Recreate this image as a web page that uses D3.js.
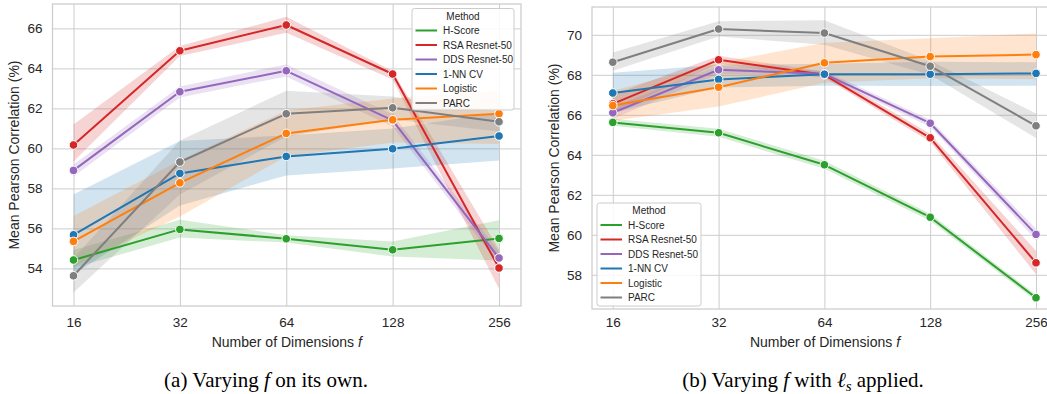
<!DOCTYPE html>
<html><head><meta charset="utf-8">
<script src="https://cdn.jsdelivr.net/npm/d3@7"></script>
<style>body{margin:0;background:#fff} svg{display:block}</style>
</head><body>
<svg id="chart" width="1047" height="394"></svg>
<script>
// ---------- data ----------
const dims = [16, 32, 64, 128, 256];
const methods = ["H-Score", "RSA Resnet-50", "DDS Resnet-50", "1-NN CV", "Logistic", "PARC"];
const methodColors = ["#2ca02c", "#d62728", "#9467bd", "#1f77b4", "#ff7f0e", "#7f7f7f"];
const yTicksA = [54, 56, 58, 60, 62, 64, 66];
const yTicksB = [58, 60, 62, 64, 66, 68, 70];

// (a) Varying f on its own — rows follow `methods`
const aMean = [
  [54.42, 55.95, 55.48, 54.93, 55.50],
  [60.17, 64.88, 66.17, 63.72, 54.02],
  [58.90, 62.83, 63.88, 61.40, 54.52],
  [55.68, 58.75, 59.60, 59.98, 60.62],
  [55.35, 58.28, 60.75, 61.43, 61.73],
  [53.63, 59.32, 61.73, 62.03, 61.33]
];
const aLow = [
  [54.03, 55.54, 55.29, 54.59, 54.40],
  [59.35, 64.62, 65.78, 63.45, 52.98],
  [58.60, 62.55, 63.60, 61.10, 54.20],
  [53.70, 57.15, 58.65, 59.00, 59.40],
  [54.10, 56.60, 59.60, 60.30, 60.22],
  [52.80, 57.70, 60.60, 61.45, 60.85]
];
const aHigh = [
  [54.92, 56.43, 55.66, 55.34, 56.41],
  [61.20, 65.12, 66.58, 63.87, 54.95],
  [59.20, 63.10, 64.20, 61.70, 54.85],
  [57.70, 60.37, 60.65, 61.00, 61.80],
  [56.62, 59.40, 61.90, 62.50, 62.89],
  [54.50, 60.40, 62.88, 62.60, 61.85]
];

// (b) Varying f with l_s applied
const bMean = [
  [65.62, 65.10, 63.50, 60.88, 56.85],
  [66.55, 68.75, 68.00, 64.85, 58.60],
  [66.10, 68.25, 68.05, 65.58, 60.02],
  [67.09, 67.77, 68.03, 68.03, 68.07],
  [66.46, 67.38, 68.60, 68.91, 69.01],
  [68.63, 70.29, 70.09, 68.43, 65.45]
];
const bLow = [
  [65.45, 64.90, 63.30, 60.70, 56.70],
  [66.10, 68.55, 67.85, 64.65, 58.03],
  [65.80, 68.05, 67.90, 65.40, 59.75],
  [66.10, 67.37, 67.45, 67.44, 67.45],
  [65.70, 66.41, 67.60, 67.83, 67.78],
  [68.20, 69.91, 69.50, 68.00, 64.84]
];
const bHigh = [
  [65.80, 65.30, 63.70, 61.05, 57.00],
  [67.00, 68.95, 68.15, 65.05, 59.20],
  [66.40, 68.45, 68.20, 65.75, 60.30],
  [68.10, 68.50, 68.55, 68.65, 68.63],
  [67.20, 68.60, 69.60, 69.83, 70.07],
  [69.11, 70.68, 70.73, 68.70, 66.07]
];

// ---------- drawing ----------
const svg = d3.select("#chart");
const SANS = "'Liberation Sans', Arial, sans-serif";
const SERIF = "'Liberation Serif', 'Times New Roman', serif";
const GRID = "#cccccc";
const TXT = "#262626";

function panel(cfg) {
  const g = svg.append("g");
  const x = d3.scaleLog().base(2).domain([16, 256]).range(cfg.xr);
  const y = d3.scaleLinear().domain(cfg.yd).range([cfg.box.y1, cfg.box.y0]);
  const W = cfg.box.x1 - cfg.box.x0, H = cfg.box.y1 - cfg.box.y0;

  // grid lines via axes
  const gx = g.append("g").attr("transform", `translate(0,${cfg.box.y1})`)
    .call(d3.axisBottom(x).tickValues(dims).tickSize(-H).tickFormat(""));
  gx.select(".domain").remove();
  gx.selectAll("line").attr("stroke", GRID).attr("stroke-width", 1);
  const gy = g.append("g").attr("transform", `translate(${cfg.box.x0},0)`)
    .call(d3.axisLeft(y).tickValues(cfg.yt).tickSize(-W).tickFormat(""));
  gy.select(".domain").remove();
  gy.selectAll("line").attr("stroke", GRID).attr("stroke-width", 1);

  // frame
  g.append("rect").attr("x", cfg.box.x0).attr("y", cfg.box.y0)
    .attr("width", W).attr("height", H)
    .attr("fill", "none").attr("stroke", GRID).attr("stroke-width", 1.25);

  // tick labels
  const tx = g.append("g").attr("transform", `translate(0,${cfg.box.y1})`)
    .call(d3.axisBottom(x).tickValues(dims).tickSize(0).tickPadding(cfg.xpad).tickFormat(d3.format("d")));
  tx.select(".domain").remove();
  tx.selectAll("text").attr("font-family", SANS).attr("font-size", 13.5).attr("fill", TXT);
  const ty = g.append("g").attr("transform", `translate(${cfg.box.x0},0)`)
    .call(d3.axisLeft(y).tickValues(cfg.yt).tickSize(0).tickPadding(10).tickFormat(d3.format("d")));
  ty.select(".domain").remove();
  ty.selectAll("text").attr("font-family", SANS).attr("font-size", 13.5).attr("fill", TXT);

  // clip
  const cid = "clip" + cfg.id;
  svg.append("clipPath").attr("id", cid).append("rect")
    .attr("x", cfg.box.x0).attr("y", cfg.box.y0).attr("width", W).attr("height", H);
  const pg = g.append("g").attr("clip-path", `url(#${cid})`);

  // bands
  const area = d3.area().x((d, i) => x(dims[i])).y0(d => y(d[0])).y1(d => y(d[1]));
  methods.forEach((m, k) => {
    const pts = dims.map((_, i) => [cfg.lo[k][i], cfg.hi[k][i]]);
    pg.append("path").attr("d", area(pts)).attr("fill", methodColors[k]).attr("fill-opacity", 0.2).attr("stroke", "none");
  });
  // lines + markers
  const line = d3.line().x((d, i) => x(dims[i])).y(d => y(d));
  methods.forEach((m, k) => {
    pg.append("path").attr("d", line(cfg.mean[k])).attr("fill", "none")
      .attr("stroke", methodColors[k]).attr("stroke-width", 2).attr("stroke-linejoin", "round");
    pg.selectAll(null).data(cfg.mean[k]).enter().append("circle")
      .attr("cx", (d, i) => x(dims[i])).attr("cy", d => y(d)).attr("r", 4.3)
      .attr("fill", methodColors[k]).attr("stroke", "#fff").attr("stroke-width", 1);
  });

  // axis labels
  const xl = g.append("text").attr("x", (cfg.box.x0 + cfg.box.x1) / 2).attr("y", 347)
    .attr("text-anchor", "middle").attr("font-family", SANS).attr("font-size", 14).attr("fill", TXT);
  xl.append("tspan").text("Number of Dimensions ");
  xl.append("tspan").attr("font-style", "italic").text("f");
  g.append("text").attr("transform", `translate(${cfg.ylx},${(cfg.box.y0 + cfg.box.y1) / 2}) rotate(-90)`)
    .attr("text-anchor", "middle").attr("dominant-baseline", "central")
    .attr("font-family", SANS).attr("font-size", 14).attr("fill", TXT)
    .text("Mean Pearson Correlation (%)");

  // legend
  const L = cfg.leg;
  const lg = g.append("g");
  lg.append("rect").attr("x", L.x).attr("y", L.y).attr("width", L.w).attr("height", L.h)
    .attr("rx", 2.5).attr("fill", "#fff").attr("fill-opacity", 0.85).attr("stroke", GRID).attr("stroke-width", 1);
  lg.append("text").attr("x", L.x + L.w / 2).attr("y", L.y + 7.5).attr("text-anchor", "middle")
    .attr("dominant-baseline", "central").attr("font-family", SANS).attr("font-size", 10).attr("fill", TXT).text("Method");
  methods.forEach((m, k) => {
    const yy = L.y + 22 + k * 14.5;
    lg.append("line").attr("x1", L.x + 3.5).attr("x2", L.x + 25).attr("y1", yy).attr("y2", yy)
      .attr("stroke", methodColors[k]).attr("stroke-width", 2);
    lg.append("text").attr("x", L.x + 31).attr("y", yy).attr("dominant-baseline", "central")
      .attr("font-family", SANS).attr("font-size", 10).attr("fill", TXT).text(m);
  });
}

panel({ id: "a", box: { x0: 52.5, x1: 521, y0: 4, y1: 306 }, xr: [73.5, 499], yd: [52.12, 67.22], yt: yTicksA,
  mean: aMean, lo: aLow, hi: aHigh, xpad: 11, ylx: 14,
  leg: { x: 412, y: 8.5, w: 102, h: 101.5 } });
panel({ id: "b", box: { x0: 592, x1: 1058, y0: 7, y1: 309 }, xr: [612.8, 1036], yd: [56.29, 71.39], yt: yTicksB,
  mean: bMean, lo: bLow, hi: bHigh, xpad: 8, ylx: 554,
  leg: { x: 597, y: 203, w: 104, h: 103 } });

// captions
function caption(cx, parts) {
  const t = svg.append("text").attr("x", cx).attr("y", 387).attr("text-anchor", "middle")
    .attr("font-family", SERIF).attr("font-size", 21).attr("fill", "#000");
  parts.forEach(p => {
    const s = t.append("tspan").text(p.t);
    if (p.i) s.attr("font-style", "italic");
    if (p.sub) s.attr("font-size", 15).attr("dy", 4);
    if (p.up) s.attr("dy", -4);
  });
}
caption(266, [{ t: "(a) Varying " }, { t: "f", i: true }, { t: " on its own." }]);
caption(803, [{ t: "(b) Varying " }, { t: "f", i: true }, { t: " with " }, { t: "ℓ", i: true }, { t: "s", i: true, sub: true }, { t: " applied.", up: true }]);
</script>
</body></html>
